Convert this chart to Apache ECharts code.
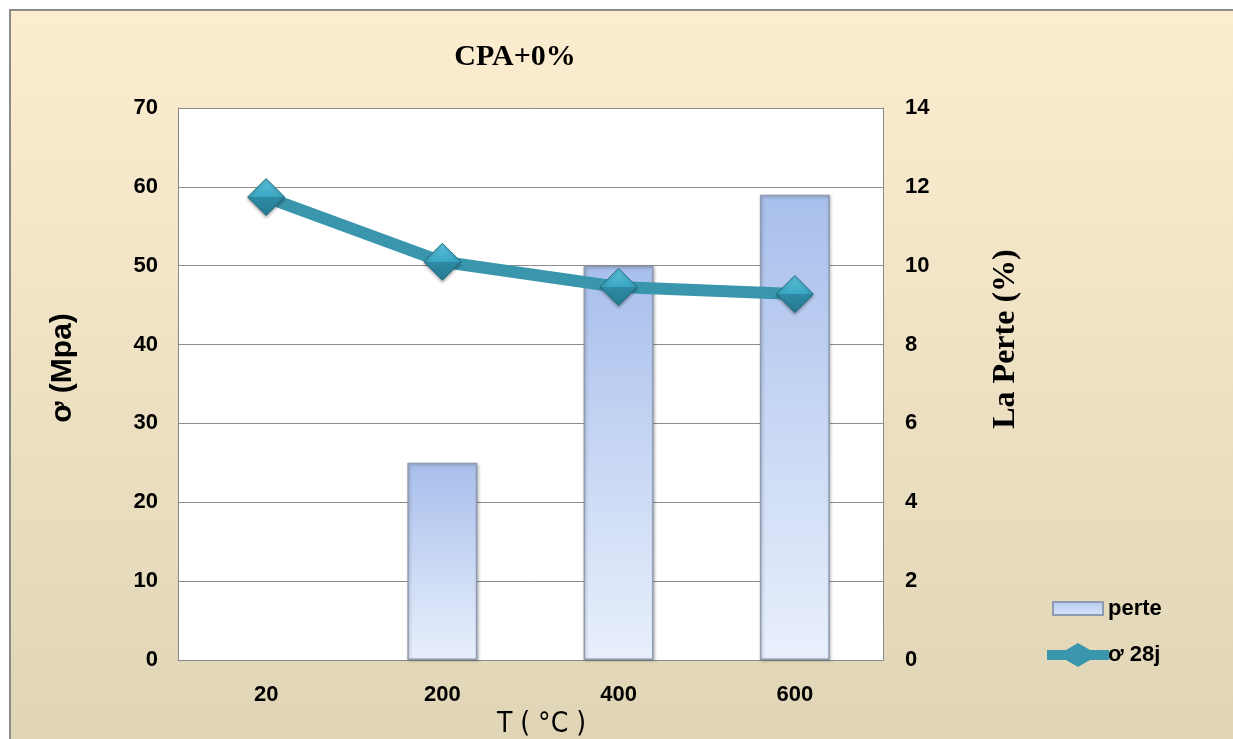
<!DOCTYPE html>
<html><head><meta charset="utf-8">
<script src="https://cdn.jsdelivr.net/npm/echarts@6/dist/echarts.min.js"></script>
<style>html,body{margin:0;padding:0;background:#fff}#c{width:1233px;height:739px}</style>
</head><body><div id="c"></div>
<script>
var categories = ['20', '200', '400', '600'];
var perte = [0, 5, 10, 11.8];
var sigma28j = [58.7, 50.5, 47.3, 46.4];
var leftTicks = [0, 10, 20, 30, 40, 50, 60, 70];
var rightTicks = [0, 2, 4, 6, 8, 10, 12, 14];

var chart = echarts.init(document.getElementById('c'), null, {renderer: 'canvas'});
var sansB = {fontFamily: 'Liberation Sans, Arial, sans-serif', fontWeight: 'bold', color: '#000'};
var perteData = perte.map(function (v) {
  return v === 0 ? {value: v, itemStyle: {opacity: 0, borderWidth: 0, shadowBlur: 0}} : v;
});
chart.setOption({
  animation: false,
  graphic: [{
    type: 'rect', z: -10, silent: true,
    shape: {x: 10, y: 10, width: 1240, height: 740},
    style: {
      fill: {type: 'linear', x: 0, y: 0, x2: 0, y2: 1, colorStops: [
        {offset: 0, color: '#fdedd0'}, {offset: 1, color: '#dfd5b6'}]},
      stroke: '#8a8a8a', lineWidth: 2
    }
  }, {
    type: 'rect', z: -9, silent: true,
    shape: {x: 178, y: 108, width: 705, height: 552},
    style: {fill: '#ffffff'}
  }],
  title: {
    text: 'CPA+0%', left: 510, top: 37, textAlign: 'center',
    textStyle: {fontFamily: 'Liberation Serif, Times New Roman, serif', fontWeight: 'bold', fontSize: 30, color: '#000'}
  },
  legend: {
    orient: 'vertical', left: 1041, top: 591, itemGap: 21,
    itemWidth: 62, itemHeight: 24,
    textStyle: Object.assign({fontSize: 22, padding: [0,0,0,-6]}, sansB),
    data: [
      {name: 'perte', icon: 'path://M0,0 M62,24 M6,5 L56,5 L56,18 L6,18 Z'},
      {name: 'ơ 28j', icon: 'path://M0,7 L19,7 L31,0 L43,7 L62,7 L62,17 L43,17 L31,24 L19,17 L0,17 Z',
       itemStyle: {color: '#3a96ad', borderWidth: 0}}
    ]
  },
  grid: {left: 178, right: 350, top: 108, bottom: 79, containLabel: false, outerBoundsMode: 'none'},
  xAxis: {
    type: 'category', data: categories,
    name: 'T ( °C )', nameLocation: 'middle', nameGap: 47,
    nameTextStyle: {fontFamily: 'Liberation Sans Narrow, DejaVu Sans Condensed, sans-serif', fontSize: 28, color: '#000', padding: [0, 0, 0, 22]},
    axisLine: {lineStyle: {color: '#888', width: 1}},
    axisTick: {show: false},
    axisLabel: Object.assign({fontSize: 22, margin: 24}, sansB)
  },
  yAxis: [{
    type: 'value', min: 0, max: 70, interval: 10,
    name: 'ơ (Mpa)', nameLocation: 'middle', nameGap: 100, nameRotate: 90,
    nameTextStyle: Object.assign({fontSize: 30, padding: [0, 0, 0, 32]}, sansB),
    axisLine: {show: true, lineStyle: {color: '#888', width: 1}},
    axisTick: {show: false},
    axisLabel: Object.assign({fontSize: 22, margin: 20}, sansB),
    splitLine: {lineStyle: {color: '#8c8c8c', width: 1}}
  }, {
    type: 'value', min: 0, max: 14, interval: 2, position: 'right',
    name: 'La Perte (%)', nameLocation: 'middle', nameGap: 107, nameRotate: 90,
    nameTextStyle: {fontFamily: 'Liberation Serif, Times New Roman, serif', fontWeight: 'bold', fontSize: 32, color: '#000', padding: [0, 0, 0, 90]},
    axisLine: {show: true, lineStyle: {color: '#888', width: 1}},
    axisTick: {show: false},
    axisLabel: Object.assign({fontSize: 22, margin: 22}, sansB),
    splitLine: {show: false}
  }],
  series: [{
    name: 'perte', type: 'bar', yAxisIndex: 1, barWidth: 70,
    data: perteData,
    itemStyle: {
      color: {type: 'linear', x: 0, y: 0, x2: 0, y2: 1, colorStops: [
        {offset: 0, color: '#a8bfec'}, {offset: 1, color: '#e9f0fc'}]},
      borderColor: '#8f9bb0', borderWidth: 1.5,
      shadowColor: 'rgba(0,0,0,0.25)', shadowBlur: 3, shadowOffsetX: 1, shadowOffsetY: 1
    }
  }, {
    name: 'ơ 28j', type: 'line', yAxisIndex: 0,
    data: sigma28j,
    symbol: 'diamond', symbolSize: 37,
    lineStyle: {color: '#3a96ad', width: 12},
    itemStyle: {
      color: {type: 'linear', x: 0, y: 0, x2: 0, y2: 1, colorStops: [
        {offset: 0, color: '#5cc3dc'}, {offset: 0.5, color: '#3aa6c2'}, {offset: 0.51, color: '#2e8aa3'}, {offset: 1, color: '#257a92'}]},
      borderColor: '#1f6a7e', borderWidth: 1,
      shadowColor: 'rgba(0,0,0,0.3)', shadowBlur: 3, shadowOffsetY: 2
    }
  }]
});
</script></body></html>
